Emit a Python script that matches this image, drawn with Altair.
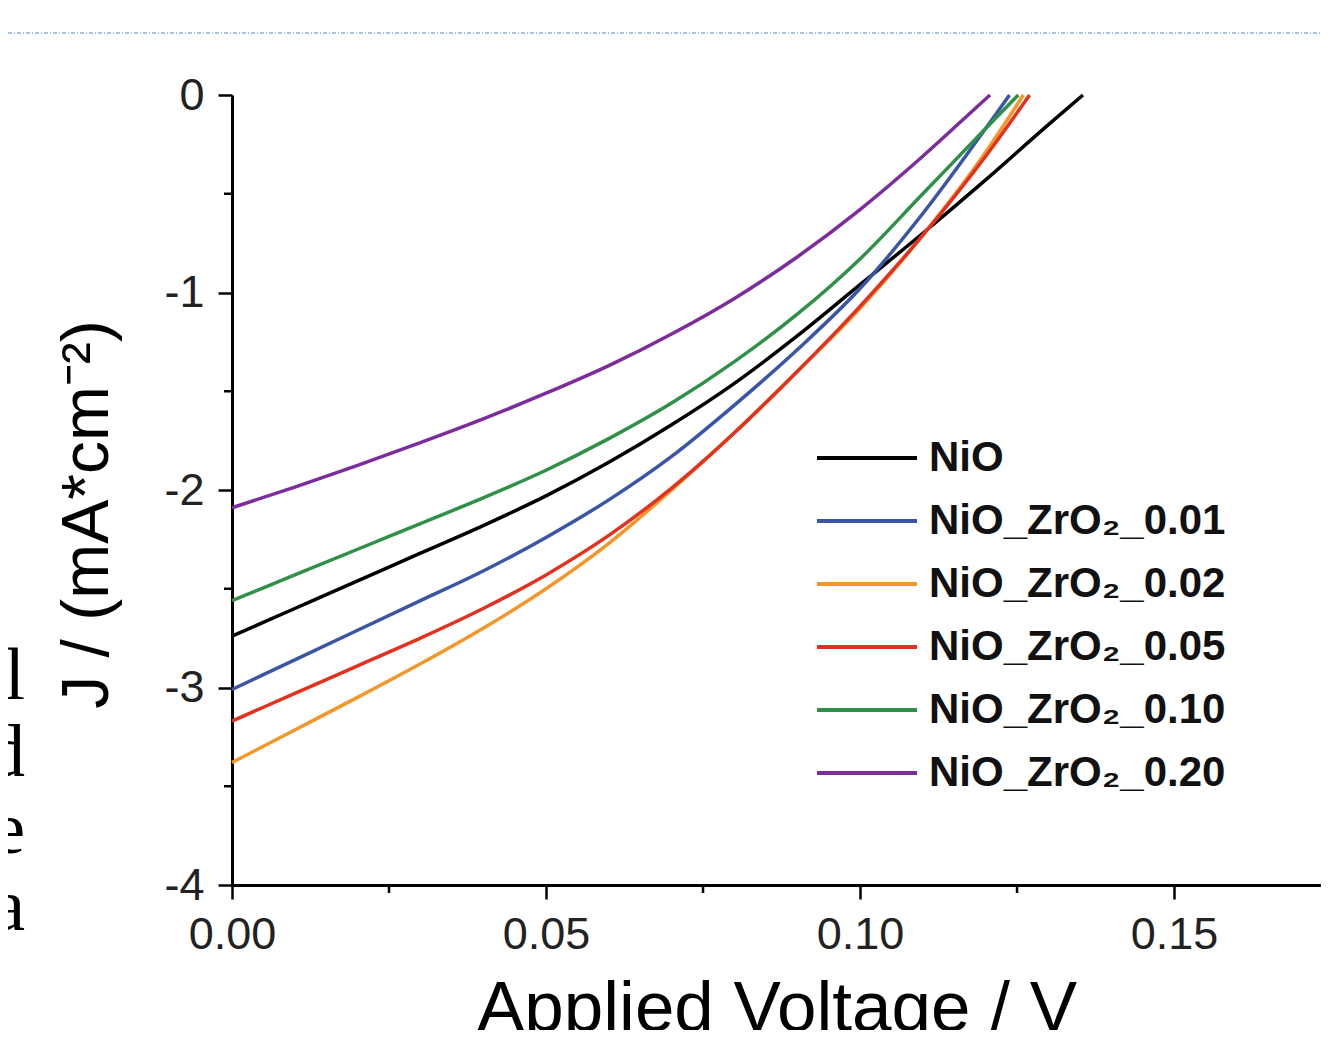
import altair as alt
import pandas as pd

# ---- data ----
series = ["NiO", "NiO_ZrO₂_0.01", "NiO_ZrO₂_0.02", "NiO_ZrO₂_0.05",
          "NiO_ZrO₂_0.10", "NiO_ZrO₂_0.20"]
colors = ["#000000", "#3a55a5", "#f5962a", "#e2321f", "#2f9148", "#7d2c9c"]

v_nio = [0, 0.01, 0.02, 0.03, 0.04, 0.05, 0.06, 0.07, 0.08, 0.09, 0.10, 0.11, 0.12, 0.13, 0.1355]
j_nio = [-2.74, -2.60, -2.46, -2.32, -2.18, -2.03, -1.86, -1.67, -1.46, -1.22, -0.96, -0.70, -0.43, -0.15, 0.0]

v_001 = [0, 0.01, 0.02, 0.03, 0.04, 0.05, 0.06, 0.07, 0.08, 0.09, 0.10, 0.11, 0.12, 0.1238]
j_001 = [-3.01, -2.86, -2.71, -2.56, -2.41, -2.24, -2.05, -1.83, -1.57, -1.29, -0.98, -0.60, -0.17, 0.0]

v_002 = [0, 0.01, 0.02, 0.03, 0.04, 0.05, 0.06, 0.07, 0.08, 0.09, 0.10, 0.11, 0.12, 0.1260]
j_002 = [-3.38, -3.215, -3.05, -2.88, -2.70, -2.50, -2.27, -2.00, -1.71, -1.40, -1.08, -0.71, -0.29, 0.0]

v_005 = [0, 0.01, 0.02, 0.03, 0.04, 0.05, 0.06, 0.07, 0.08, 0.09, 0.10, 0.11, 0.12, 0.1270]
j_005 = [-3.17, -3.03, -2.89, -2.75, -2.60, -2.43, -2.23, -1.99, -1.71, -1.40, -1.07, -0.71, -0.31, 0.0]

v_010 = [0, 0.01, 0.02, 0.03, 0.04, 0.05, 0.06, 0.07, 0.08, 0.09, 0.10, 0.11, 0.12, 0.1252]
j_010 = [-2.56, -2.43, -2.30, -2.17, -2.04, -1.90, -1.74, -1.56, -1.35, -1.11, -0.83, -0.50, -0.17, 0.0]

v_020 = [0, 0.01, 0.02, 0.03, 0.04, 0.05, 0.06, 0.07, 0.08, 0.09, 0.10, 0.11, 0.12, 0.1207]
j_020 = [-2.09, -1.985, -1.875, -1.76, -1.64, -1.51, -1.37, -1.21, -1.03, -0.82, -0.58, -0.31, -0.02, 0.0]

x_ticks = [0.0, 0.05, 0.10, 0.15]
x_minor = [0.025, 0.075, 0.125]
y_ticks = [0, -1, -2, -3, -4]
y_minor = [-0.5, -1.5, -2.5, -3.5]

# cut-off text fragments at the left edge of the screenshot
frag_text = ["l", "d", "e", "a"]
frag_j = [-3.06, -3.45, -3.84, -4.23]

# ---- build table ----
rows = []
for name, vs, js in zip(series,
                        [v_nio, v_001, v_002, v_005, v_010, v_020],
                        [j_nio, j_001, j_002, j_005, j_010, j_020]):
    for v, j in zip(vs, js):
        rows.append({"series": name, "V": v, "J": j})
df = pd.DataFrame(rows)

W, H = 1089, 790
xscale = alt.Scale(domain=[0, 0.1734], nice=False, zero=False)
yscale = alt.Scale(domain=[-4, 0], nice=False, zero=False)

x_axis = alt.Axis(values=x_ticks, format=".2f", title="Applied Voltage / V",
                  grid=False, tickSize=14, tickWidth=2.5, tickColor="#000",
                  domainWidth=3, domainColor="#000", labelFlush=False,
                  labelFont="Liberation Sans", labelFontSize=45,
                  labelColor="#222", labelPadding=13,
                  titleFont="Liberation Sans", titleFontSize=71,
                  titleFontWeight="normal", titleColor="#000",
                  titleBaseline="alphabetic", titleY=145)
y_axis = alt.Axis(values=y_ticks, labelExpr="'' + datum.value",
                  title="J / (mA*cm⁻²)", labelFlush=False,
                  grid=False, tickSize=14, tickWidth=2.5, tickColor="#000",
                  domainWidth=3, domainColor="#000",
                  labelFont="Liberation Sans", labelFontSize=45,
                  labelColor="#222", labelPadding=14,
                  titleFont="Liberation Sans", titleFontSize=66,
                  titleFontWeight="normal", titleColor="#000",
                  titleAngle=270, titleAlign="center",
                  titleBaseline="alphabetic", titleX=-125, titleY=419)

lines = alt.Chart(df).mark_line(strokeWidth=3.5, interpolate="monotone").encode(
    x=alt.X("V:Q", scale=xscale, axis=x_axis),
    y=alt.Y("J:Q", scale=yscale, axis=y_axis),
    color=alt.Color("series:N", sort=series,
                    scale=alt.Scale(domain=series, range=colors),
                    legend=alt.Legend(title=None, orient="none",
                                      legendX=614, legendY=342,
                                      symbolType="M-5,0L5,0", symbolSize=400,
                                      symbolStrokeWidth=4, labelOffset=41,
                                      labelFont="Liberation Sans", labelFontSize=42,
                                      labelFontWeight="bold", labelColor="#111",
                                      labelLimit=0, rowPadding=21, padding=0)),
)

minor_x_df = pd.DataFrame({"V": x_minor})
minor_x = alt.Chart(minor_x_df).mark_rule(color="#000", strokeWidth=2.5).encode(
    x=alt.X("V:Q", scale=xscale, axis=x_axis), y=alt.value(H), y2=alt.value(H + 8))

minor_y_df = pd.DataFrame({"J": y_minor})
minor_y = alt.Chart(minor_y_df).mark_rule(color="#000", strokeWidth=2.5).encode(
    y=alt.Y("J:Q", scale=yscale, axis=y_axis), x=alt.value(-8), x2=alt.value(0))

top_line = alt.Chart(pd.DataFrame({"k": [0]})).mark_rule(
    color="#8fb0e8", strokeWidth=1.5, strokeDash=[4, 2, 1, 2]).encode(
    x=alt.value(-224), x2=alt.value(W), y=alt.value(-62))

frag_df = pd.DataFrame({"t": frag_text, "J": frag_j})
frags = alt.Chart(frag_df).mark_text(
    font="Liberation Serif", fontSize=74, align="right", baseline="alphabetic",
    color="#000").encode(
    x=alt.value(-207), y=alt.Y("J:Q", scale=yscale, axis=y_axis), text="t:N")

chart = alt.layer(top_line, frags, minor_x, minor_y, lines).properties(
    width=W, height=H, background="white",
    autosize=alt.AutoSizeParams(type="none"),
    padding={"left": 224, "top": 87, "right": 0, "bottom": 145},
).configure_view(strokeWidth=0, stroke="transparent").configure_axis(grid=False)

chart.save("out.html", embed_options={"renderer": "svg", "actions": False})
